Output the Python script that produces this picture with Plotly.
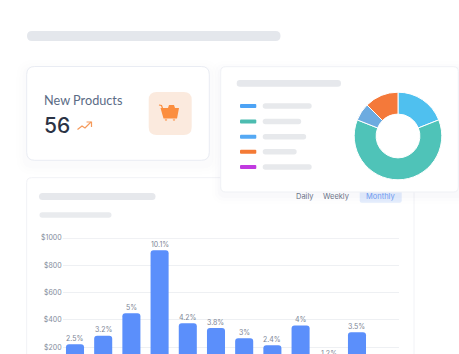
import plotly.graph_objects as go

W, H = 459, 354

# ---- data ----
bar_index = [0, 1, 2, 3, 4, 5, 6, 7, 8, 9, 10]
bar_values = [222, 285, 449, 910, 376, 341, 266, 215, 359, 93, 310]
bar_labels = ["2.5%", "3.2%", "5%", "10.1%", "4.2%", "3.8%", "3%", "2.4%", "4%", "1.2%", "3.5%"]
y_ticks = [200, 400, 600, 800, 1000]
y_tick_labels = ["$200", "$400", "$600", "$800", "$1000"]
donut_values = [19, 62, 6.5, 12.5]
donut_colors = ["#4fc0ef", "#4fc3b8", "#6cabe0", "#f4793a"]
legend_colors = ["#4da3f5", "#4cbcb0", "#55a9f4", "#f47a35", "#c13ae0"]
legend_widths = [49, 38.5, 43.5, 34, 49]
period_labels = ["Daily", "Weekly", "Monthly"]
card_title = "New Products"
card_value = "56"
axis_floor = 151


def fx(x):
    return x / W


def fy(y):
    return 1 - y / H


def P(d, **kw):
    base = dict(type="path", xref="paper", yref="paper", path=d, layer="below", line=dict(width=0))
    base.update(kw)
    return base


def conv_path(cmds):
    out = []
    for c in cmds:
        if c[0] in "ML":
            out.append(f"{c[0]} {fx(c[1])} {fy(c[2])}")
        else:
            out.append(c[0])
    return " ".join(out)


def rrect_shape(x0, y0, x1, y1, r, fill=None, line=None, lw=0):
    # rounded rectangle, written in paper units
    rx, ry = r / W, r / H
    a, b, c, d = fx(x0), fx(x1), fy(y0), fy(y1)
    path = (f"M {a + rx} {c} L {b - rx} {c} Q {b} {c} {b} {c - ry} L {b} {d + ry} Q {b} {d} {b - rx} {d} "
            f"L {a + rx} {d} Q {a} {d} {a} {d + ry} L {a} {c - ry} Q {a} {c} {a + rx} {c} Z")
    return P(path, fillcolor=fill or "rgba(0,0,0,0)", line=dict(width=lw, color=line or "rgba(0,0,0,0)"))


shapes = []

# top placeholder
shapes.append(rrect_shape(27, 31, 280.5, 41, 5, fill="#e4e7ec"))

# soft shadow under left card
for i, a in enumerate([0.006, 0.008, 0.010]):
    g = 10 - i * 3
    shapes.append(rrect_shape(26.5 - g, 66 - g + 4, 209.5 + g, 160.5 + g + 4, 7 + g, fill=f"rgba(90,110,170,{a})"))

# left card
shapes.append(rrect_shape(26.7, 66.5, 209.3, 160.3, 8, fill="#ffffff", line="#e9ecf3", lw=1))
shapes.append(rrect_shape(148.7, 92, 191.7, 135, 8, fill="#fbeade"))

# cart icon
cart = "#fb8e3f"
shapes.append(P(conv_path([("M", 160.5, 108), ("L", 179, 108), ("L", 177, 118.5), ("L", 163.5, 118.5), ("Z",)]), fillcolor=cart))
shapes.append(P(conv_path([("M", 168, 108), ("L", 169, 105), ("L", 174, 105), ("L", 175, 108), ("Z",)]), fillcolor=cart))
shapes.append(P(conv_path([("M", 159, 105), ("L", 161.5, 105.5), ("L", 163.5, 111)]), fillcolor="rgba(0,0,0,0)", line=dict(color=cart, width=1.2)))
for cx in (166, 174):
    shapes.append(rrect_shape(cx - 1.2, 118.5, cx + 1.2, 121, 1.2, fill="#fbb482"))

# trend arrow
arrow = "#f59a5b"
shapes.append(P(conv_path([("M", 77.5, 129.5), ("L", 82, 126), ("L", 85, 128), ("L", 91, 122)]), fillcolor="rgba(0,0,0,0)", line=dict(color=arrow, width=1.2)))
shapes.append(P(conv_path([("M", 86.5, 122), ("L", 91.5, 122), ("L", 91.5, 127)]), fillcolor="rgba(0,0,0,0)", line=dict(color=arrow, width=1.2)))

# bar-chart card
shapes.append(rrect_shape(26.7, 177.7, 414, 370, 5, fill="#ffffff", line="#f1f2f6", lw=1))
shapes.append(rrect_shape(39, 193, 155.5, 200, 3.5, fill="#e6e8ec"))
shapes.append(rrect_shape(39.5, 212.3, 111.5, 217.7, 2.7, fill="#e9ebee"))
shapes.append(rrect_shape(359.7, 188, 401.7, 202.7, 2, fill="#e4edfd"))

# right card with shadow
for i, a in enumerate([0.008, 0.012, 0.016]):
    g = 9 - i * 3
    shapes.append(rrect_shape(220.7 - g, 66.7 - g + 3, 470, 192 + g + 3, 5 + g, fill=f"rgba(70,85,130,{a})"))
shapes.append(rrect_shape(220.7, 66.7, 458.3, 192, 5, fill="#ffffff", line="#eff1f5", lw=1))
shapes.append(rrect_shape(236.7, 80, 341, 86.7, 3.3, fill="#e6e8ec"))

# legend rows
for color, width, yc in zip(legend_colors, legend_widths, [106, 121.5, 136.7, 151.7, 167]):
    shapes.append(rrect_shape(240, yc - 2, 256.3, yc + 2, 1, fill=color))
    shapes.append(rrect_shape(262.7, yc - 2.7, 262.7 + width, yc + 2.7, 2.7, fill="#e7e9ec"))

# stronger top rule of the bar chart
shapes.append(dict(type="line", xref="paper", yref="y", x0=fx(62.7), x1=fx(399), y0=y_ticks[-1], y1=y_ticks[-1],
                   layer="below", line=dict(color="#e2e4e9", width=1)))

fig = go.Figure()

fig.add_trace(go.Bar(
    x=bar_index, y=bar_values,
    marker=dict(color="#5b8ffb", line=dict(width=0)),
    cliponaxis=False, hoverinfo="skip",
))

cx, cy, R = 398, 136, 43.8
fig.add_trace(go.Pie(
    values=donut_values, sort=False, direction="clockwise", rotation=0, hole=0.5,
    marker=dict(colors=donut_colors, line=dict(color="#ffffff", width=1)),
    textinfo="none", hoverinfo="skip", showlegend=False,
    domain=dict(x=[fx(cx - R), fx(cx + R)], y=[fy(cy + R), fy(cy - R)]),
))

annotations = [
    dict(text=card_title, x=fx(44), y=fy(100), xanchor="left", yanchor="middle",
         font=dict(family="Lato", size=12.7, color="#5b6b85")),
    dict(text=card_value, x=fx(44), y=fy(125.5), xanchor="left", yanchor="middle",
         font=dict(family="Inter", size=21, weight=500, color="#2b3345")),
]
for label, xc, col in zip(period_labels, [305.3, 336.3, 380.3], ["#6b7488", "#6b7488", "#6f9bf0"]):
    annotations.append(dict(text=label, x=fx(xc), y=fy(196.7), xanchor="center", yanchor="middle",
                            font=dict(family="Inter", size=7.5, color=col)))
for a in annotations:
    a.update(xref="paper", yref="paper", showarrow=False, borderpad=0, borderwidth=0)

# value labels sit just above each bar; a bar whose top falls below the window
# keeps its label at the lower edge of the axis
for xv, yv, label in zip(bar_index, bar_values, bar_labels):
    above = yv >= axis_floor
    annotations.append(dict(text=label, x=xv, y=yv if above else axis_floor, yshift=5.7 if above else 0.7,
                            xref="x", yref="y", showarrow=False, xanchor="center", yanchor="middle", borderpad=0,
                            font=dict(family="Inter", size=7, color="#7d8595")))

fig.update_layout(
    width=W, height=H, margin=dict(l=0, r=0, t=0, b=0, autoexpand=False),
    paper_bgcolor="#ffffff", plot_bgcolor="rgba(0,0,0,0)", showlegend=False,
    bargap=0.36, barcornerradius=3, shapes=shapes, annotations=annotations,
    xaxis=dict(domain=[fx(62.7), fx(399)], range=[-0.436, 11.49], showgrid=False, zeroline=False,
               showticklabels=False, ticks="", showline=False, anchor="y", automargin=False),
    yaxis=dict(domain=[0, fy(238)], range=[axis_floor, 1000], tickvals=y_ticks, ticktext=y_tick_labels,
               tickfont=dict(family="Inter", size=7, color="#838b9b"), gridcolor="#eef0f3", gridwidth=1,
               zeroline=False, showline=False, ticks="", ticklen=0, anchor="x", automargin=False),
)

fig.write_html("out.html", config={"displayModeBar": False},
               post_script="document.body.style.margin='0';document.body.style.overflow='hidden';")
